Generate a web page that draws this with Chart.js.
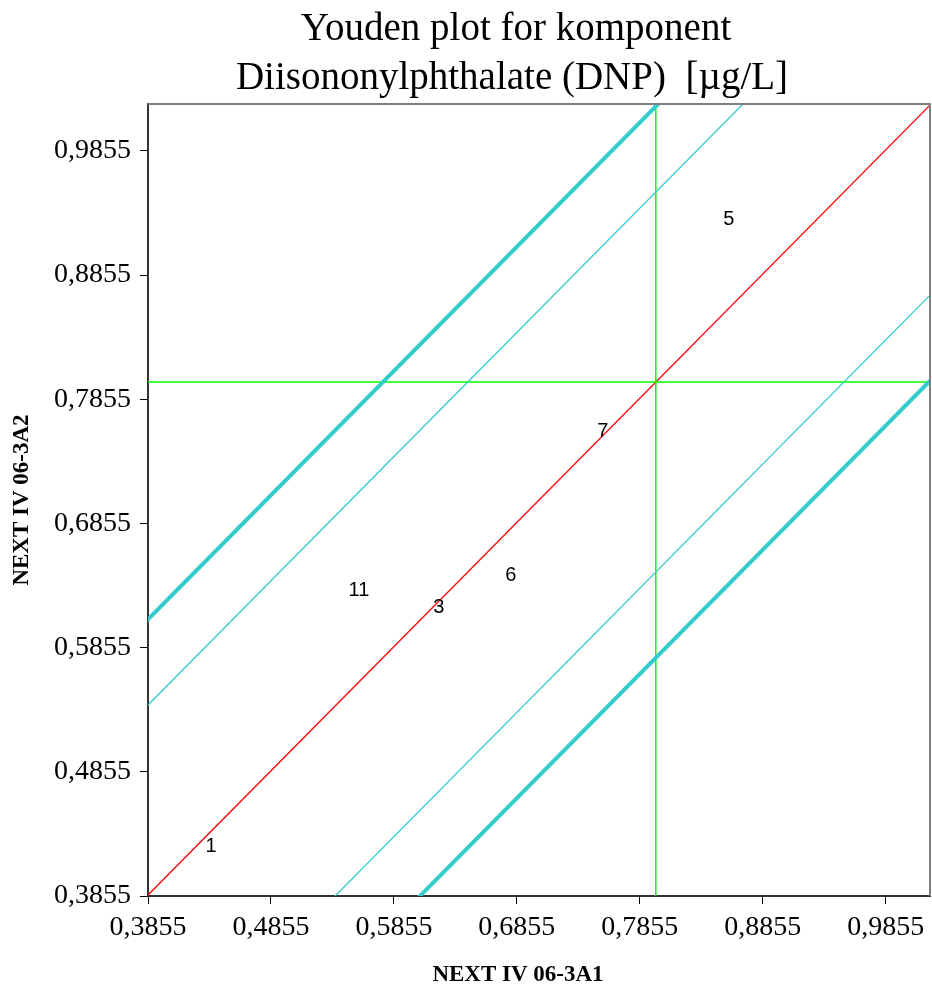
<!DOCTYPE html>
<html>
<head>
<meta charset="utf-8">
<script src="https://cdn.jsdelivr.net/npm/chart.js@4.4.0/dist/chart.umd.min.js"></script>
<style>
  html, body { margin: 0; padding: 0; background: #fff; }
  #wrap { width: 932px; height: 994px; }
</style>
</head>
<body>
<div id="wrap"><canvas id="youden" width="932" height="994"></canvas></div>
<script>
// lab results (sample A1 vs sample A2) and their lab numbers
const labNumbers = ['1', '3', '5', '6', '7', '11'];
const valuesA1 = [0.4367, 0.6221, 0.8579, 0.6806, 0.7554, 0.5570];
const valuesA2 = [0.4250, 0.6182, 0.9306, 0.6432, 0.7599, 0.6311];

// medians and limit offsets along the diagonal
const medianA1 = 0.7985;
const medianA2 = 0.7993;
const innerOffset = 0.153;
const outerOffset = 0.222;

const tickValues = [0.3855, 0.4855, 0.5855, 0.6855, 0.7855, 0.8855, 0.9855];
const axisMin = 0.3855;
const xMax = 1.0215;
const yMax = 1.0232;

const fmt = v => v.toFixed(4).replace('.', ',');

// a diagonal through the median point shifted by d
function diag(d) {
  const c = medianA2 - medianA1 + d;
  return [{ x: 0.2, y: 0.2 + c }, { x: 1.2, y: 1.2 + c }];
}

const turq = '#33CCCC';

const lineDs = (data, color, width) => ({
  type: 'line', data: data, borderColor: color, backgroundColor: color,
  borderWidth: width, pointRadius: 0, fill: false, tension: 0
});

const datasets = [
  lineDs(diag(outerOffset), turq, 4),
  lineDs(diag(-outerOffset), turq, 4),
  lineDs(diag(innerOffset), turq, 1.3),
  lineDs(diag(-innerOffset), turq, 1.3),
  lineDs([{ x: medianA1, y: 0.2 }, { x: medianA1, y: 1.2 }], '#00FF00', 1.5),
  lineDs([{ x: 0.2, y: medianA2 }, { x: 1.2, y: medianA2 }], '#00FF00', 1.5),
  lineDs(diag(0), '#FF0000', 1.3),
  {
    type: 'scatter',
    data: valuesA1.map((v, i) => ({ x: v, y: valuesA2[i] })),
    pointRadius: 0, showLine: false
  }
];

const decor = {
  id: 'decor',
  afterDatasetsDraw(chart) {
    const { ctx, chartArea: a, scales } = chart;
    ctx.save();
    // lab number labels
    ctx.font = '20px "Liberation Sans", Arial, sans-serif';
    ctx.fillStyle = '#000';
    ctx.textAlign = 'center';
    ctx.textBaseline = 'middle';
    const pts = chart.data.datasets[7].data;
    pts.forEach((p, i) => {
      ctx.fillText(labNumbers[i], scales.x.getPixelForValue(p.x), scales.y.getPixelForValue(p.y));
    });
    // top and right frame
    ctx.strokeStyle = '#808080';
    ctx.lineWidth = 2;
    ctx.beginPath();
    ctx.moveTo(a.left, a.top);
    ctx.lineTo(a.right, a.top);
    ctx.lineTo(a.right, a.bottom);
    ctx.stroke();
    ctx.restore();
  },
  afterDraw(chart) {
    const { ctx } = chart;
    ctx.save();
    ctx.fillStyle = '#000';
    ctx.textAlign = 'center';
    ctx.textBaseline = 'middle';
    ctx.font = '39px "Liberation Serif", "Times New Roman", serif';
    ctx.fillText('Youden plot for komponent', 516, 30);
    ctx.fillText('Diisononylphthalate (DNP)  [\u00b5g/L]', 512, 79);
    ctx.font = 'bold 23px "Liberation Serif", "Times New Roman", serif';
    ctx.fillText('NEXT IV 06-3A1', 518, 975);
    ctx.translate(22, 500);
    ctx.rotate(-Math.PI / 2);
    ctx.fillText('NEXT IV 06-3A2', 0, 0);
    ctx.restore();
  }
};

const axisCommon = (max) => ({
  type: 'linear',
  min: axisMin,
  max: max,
  afterBuildTicks: s => { s.ticks = tickValues.map(v => ({ value: v })); },
  grid: { drawOnChartArea: false, drawTicks: true, tickLength: 8, color: '#000', lineWidth: 1 },
  border: { color: '#333333', width: 2 },
  ticks: {
    color: '#000',
    font: { family: '"Liberation Serif", "Times New Roman", serif', size: 28 },
    callback: v => fmt(v),
    autoSkip: false,
    maxRotation: 0
  }
});

const xAxis = axisCommon(xMax);
xAxis.ticks.padding = 7;
xAxis.afterFit = s => { s.height = 98; };
const yAxis = axisCommon(yMax);
yAxis.ticks.padding = 9;
yAxis.afterFit = s => { s.width = 148; };

new Chart(document.getElementById('youden'), {
  type: 'scatter',
  data: { datasets: datasets },
  options: {
    responsive: false,
    animation: false,
    devicePixelRatio: 1,
    layout: { padding: { top: 104, right: 2, left: 0, bottom: 0 } },
    plugins: { legend: { display: false }, title: { display: false }, tooltip: { enabled: false } },
    scales: { x: xAxis, y: yAxis }
  },
  plugins: [decor]
});
</script>
</body>
</html>
